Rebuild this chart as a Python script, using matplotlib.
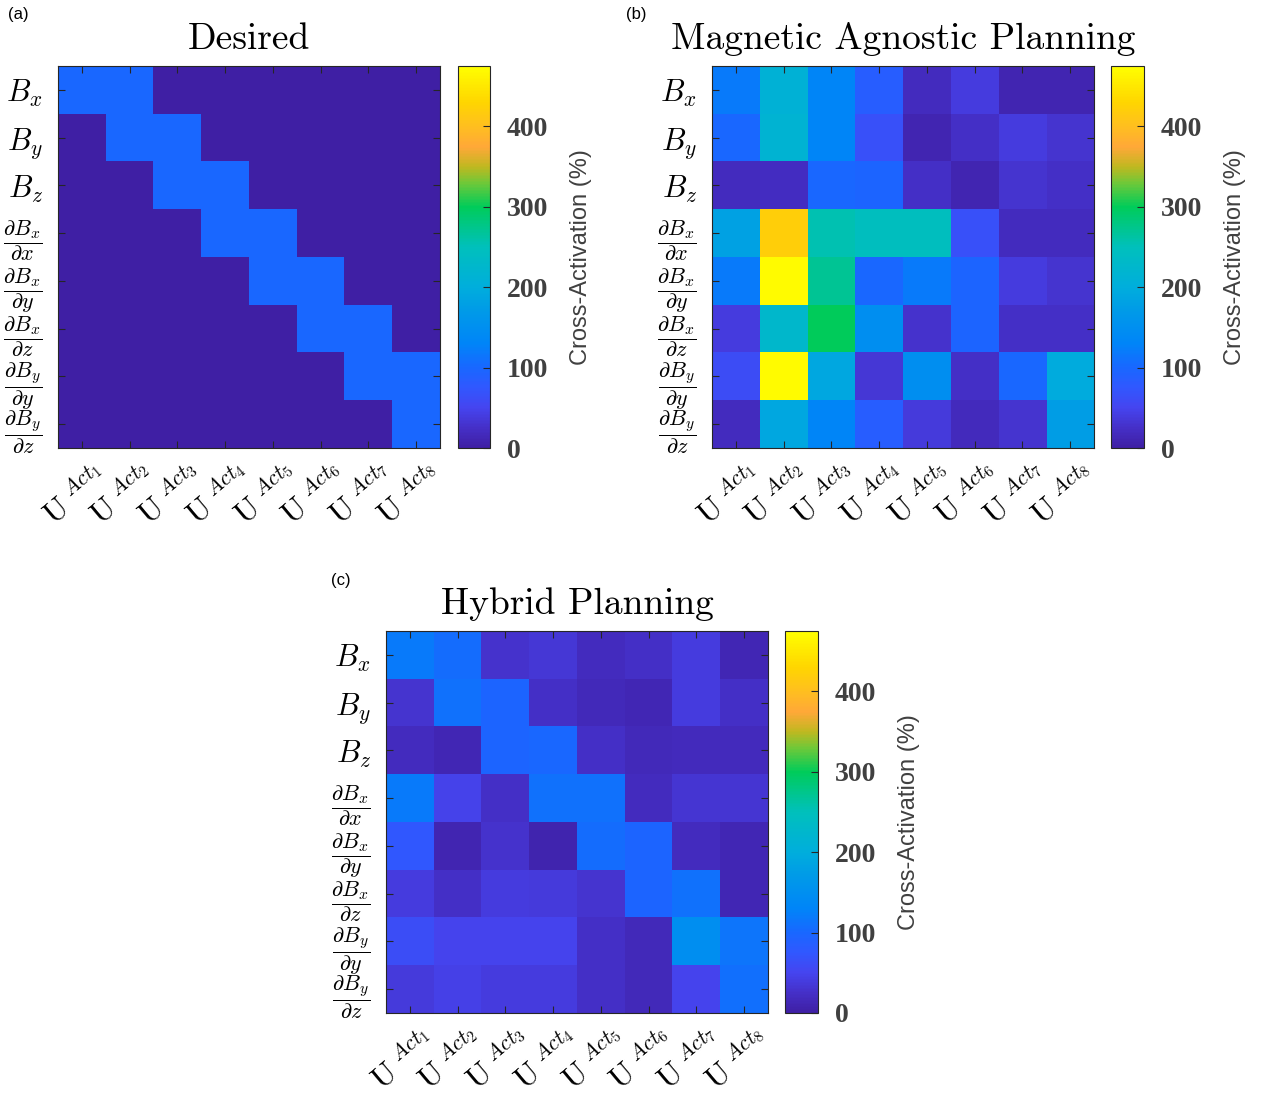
import numpy as np
import matplotlib
matplotlib.use("Agg")
import matplotlib.pyplot as plt
from matplotlib.colors import LinearSegmentedColormap
from matplotlib.transforms import ScaledTranslation, blended_transform_factory

plt.rcParams['mathtext.fontset'] = 'cm'

# row / column labels
rows = [r'$B_x$', r'$B_y$', r'$B_z$',
        r'$\dfrac{\partial B_x}{\partial x}$', r'$\dfrac{\partial B_x}{\partial y}$',
        r'$\dfrac{\partial B_x}{\partial z}$', r'$\dfrac{\partial B_y}{\partial y}$',
        r'$\dfrac{\partial B_y}{\partial z}$']
cols = [r'$\mathrm{U}\;{}^{Act_%d}$' % i for i in range(1, 9)]

# cross-activation (%)
desired = [
    [100, 100, 0, 0, 0, 0, 0, 0],
    [0, 100, 100, 0, 0, 0, 0, 0],
    [0, 0, 100, 100, 0, 0, 0, 0],
    [0, 0, 0, 100, 100, 0, 0, 0],
    [0, 0, 0, 0, 100, 100, 0, 0],
    [0, 0, 0, 0, 0, 100, 100, 0],
    [0, 0, 0, 0, 0, 0, 100, 100],
    [0, 0, 0, 0, 0, 0, 0, 100],
]
agnostic = [
    [120, 210, 130, 85, 20, 40, 10, 10],
    [100, 215, 130, 65, 10, 25, 40, 30],
    [20, 22, 100, 95, 25, 10, 30, 25],
    [180, 420, 255, 245, 245, 65, 20, 20],
    [120, 470, 270, 100, 120, 95, 40, 30],
    [40, 225, 300, 150, 28, 95, 25, 25],
    [60, 470, 190, 35, 150, 25, 100, 195],
    [20, 190, 130, 85, 38, 18, 30, 175],
]
hybrid = [
    [120, 105, 28, 35, 20, 25, 40, 12],
    [30, 110, 95, 25, 15, 12, 40, 25],
    [20, 12, 95, 100, 25, 15, 18, 18],
    [120, 48, 25, 110, 110, 20, 32, 32],
    [75, 10, 28, 8, 105, 95, 20, 12],
    [40, 25, 40, 38, 30, 95, 110, 12],
    [62, 50, 50, 50, 25, 15, 150, 115],
    [38, 45, 40, 40, 25, 15, 50, 108],
]

vmax = 475
nodes = [(0, '#3f1fa4'), (25, '#4530c8'), (50, '#4545f0'), (75, '#3058ff'),
         (100, '#1868ff'), (130, '#0085f8'), (170, '#009ae8'), (200, '#00aedc'),
         (250, '#00c0bc'), (300, '#00cc5a'), (330, '#70c838'), (350, '#c0b820'),
         (375, '#ffa838'), (400, '#ffbe20'), (430, '#ffd500'), (475, '#ffff00')]
cmap = LinearSegmentedColormap.from_list('xact', [(v / vmax, c) for v, c in nodes])

W, H = 1268, 1094
fig = plt.figure(figsize=(W / 100, H / 100), dpi=100)


def px(x, y, w, h):
    return [x / W, 1 - (y + h) / H, w / W, h / H]


def panel(data, ax_box, cb_box, title, tag, tag_xy):
    ax = fig.add_axes(px(*ax_box))
    im = ax.imshow(np.array(data), cmap=cmap, vmin=0, vmax=vmax, aspect='auto')
    ax.set_yticks(range(8))
    ax.set_yticklabels(rows)
    for i, lab in enumerate(ax.get_yticklabels()):
        lab.set_fontsize(22 if i < 3 else 16)
    ax.set_xticks(range(8))
    ax.set_xticklabels([])
    # rotated column labels, centred a bit left of and below each tick
    trans = blended_transform_factory(ax.transData, ax.transAxes) + \
        ScaledTranslation(-0.07, -0.47, fig.dpi_scale_trans)
    for i, c in enumerate(cols):
        ax.text(i, 0, c, transform=trans, rotation=40, rotation_mode='anchor',
                ha='center', va='center', fontsize=22)
    ax.tick_params(direction='in', top=True, right=True, length=5,
                   color='#262626')
    ax.tick_params(axis='y', pad=11)
    for s in ax.spines.values():
        s.set_color('#262626')
    ax.set_title(title, fontfamily='cmr10', fontsize=27, pad=12)

    cax = fig.add_axes(px(*cb_box))
    cb = fig.colorbar(im, cax=cax, ticks=[0, 100, 200, 300, 400])
    cb.outline.set_edgecolor('#262626')
    cax.tick_params(direction='in', length=5, color='#262626', pad=12)
    for lab in cax.get_yticklabels():
        lab.set_fontfamily('Liberation Serif')
        lab.set_fontweight('bold')
        lab.set_fontsize(20)
        lab.set_color('#404040')
    cb.set_label('Cross-Activation (%)', fontsize=17, color='#404040',
                 fontfamily='Liberation Sans', labelpad=16)
    fig.text(tag_xy[0] / W, 1 - tag_xy[1] / H, tag, fontsize=12,
             fontfamily='Liberation Sans', va='center')


panel(desired, (58, 66, 382, 382), (458, 66, 32, 382), 'Desired', '(a)', (8, 14))
panel(agnostic, (712, 66, 382, 382), (1111, 66, 33, 382),
      'Magnetic Agnostic Planning', '(b)', (626, 14))
panel(hybrid, (386, 631, 382, 382), (785, 631, 33, 382),
      'Hybrid Planning', '(c)', (331, 580))

fig.savefig('out.png', dpi=100)
